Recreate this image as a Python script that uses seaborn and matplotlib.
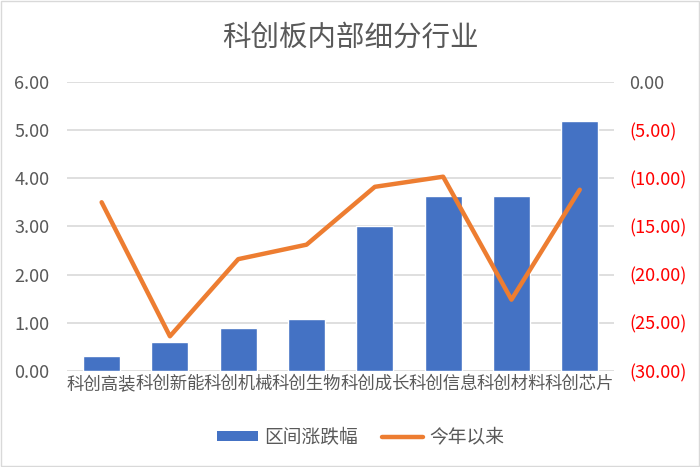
import matplotlib
matplotlib.use("Agg")
import matplotlib.pyplot as plt
import seaborn as sns
import pandas as pd
from matplotlib.patches import Patch, Rectangle
from matplotlib.lines import Line2D
from matplotlib.ticker import FuncFormatter

categories = ["科创高装", "科创新能", "科创机械", "科创生物", "科创成长", "科创信息", "科创材料", "科创芯片"]
range_change = [0.32, 0.60, 0.885, 1.08, 3.00, 3.62, 3.64, 5.18]
ytd_change = [-12.5, -26.4, -18.4, -16.9, -10.9, -9.85, -22.6, -11.2]
bar_label = "区间涨跌幅"
line_label = "今年以来"
title = "科创板内部细分行业"

sns.set_theme(style="white")
plt.rcParams["font.family"] = ["Noto Sans CJK SC", "DejaVu Sans"]

df = pd.DataFrame({"cat": categories, "range": range_change, "ytd": ytd_change})

gray = "#595959"
fig = plt.figure(figsize=(7, 4.67), dpi=100)
ax = fig.add_axes([0.0964, 0.2056, 0.7806, 0.6194])
sns.barplot(data=df, x="cat", y="range", color="#4472C4", saturation=1, width=0.54, ax=ax, zorder=2)
ax.set_ylim(0, 6)
ax.set_yticks([0, 1, 2, 3, 4, 5, 6])
ax.yaxis.set_major_formatter(FuncFormatter(lambda v, p: f"{v:.2f}"))
ax.grid(axis="y", color="#D9D9D9", linewidth=1.2, zorder=0)
ax.set_axisbelow(True)
ax.set_xlabel("")
ax.set_ylabel("")
for s in ax.spines.values():
    s.set_visible(False)
ax.tick_params(axis="y", colors=gray, labelsize=13, length=0, pad=13)
ax.tick_params(axis="x", colors=gray, labelsize=12.5, length=0, pad=3)
for t in ax.get_xticklabels():
    t.set_color(gray)

ax2 = ax.twinx()
sns.lineplot(data=df, x="cat", y="ytd", color="#ED7D31", linewidth=3.2, ax=ax2, sort=False)
ax2.set_ylim(-30, 0)
ax2.set_yticks([0, -5, -10, -15, -20, -25, -30])
ax2.yaxis.set_major_formatter(FuncFormatter(lambda v, p: "0.00" if v == 0 else f"({abs(v):.2f})"))
ax2.set_ylabel("")
for s in ax2.spines.values():
    s.set_visible(False)
ax2.tick_params(axis="y", labelsize=13, length=0, pad=11)
for t in ax2.get_yticklabels():
    t.set_color(gray if t.get_text() == "0.00" else "#FF0000")
ax2.grid(False)
ax.set_xlim(-0.5, len(categories) - 0.5)

fig.text(0.5, 0.92, title, ha="center", va="center", fontsize=20.5, color=gray)

handles = [Patch(facecolor="#4472C4", edgecolor="none", label=bar_label),
           Line2D([0], [0], color="#ED7D31", linewidth=3.2, label=line_label)]
fig.legend(handles=handles, loc="center", bbox_to_anchor=(0.515, 0.064), ncol=2, frameon=False,
           fontsize=13.5, labelcolor=gray, handlelength=2.2, handleheight=0.45, columnspacing=1.3, handletextpad=0.3)

fig.patches.append(Rectangle((0.002, 0.002), 0.996, 0.996, transform=fig.transFigure,
                             fill=False, edgecolor="#D9D9D9", linewidth=1))
fig.savefig("out.png", dpi=100)
